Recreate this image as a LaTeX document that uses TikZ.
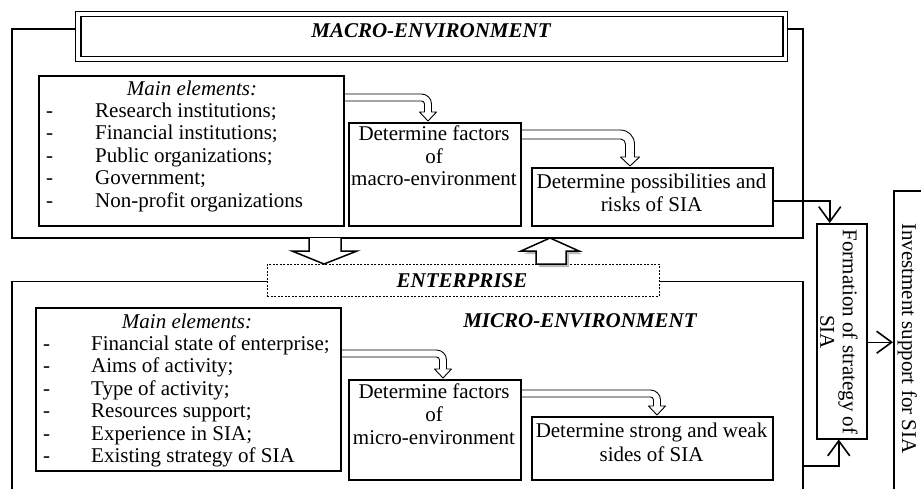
\documentclass[tikz,border=0pt]{standalone}
\usepackage{fontspec}
\setmainfont{Liberation Serif}
\usetikzlibrary{arrows.meta,calc}

\newcommand{\hollowbend}[6]{%
 \pgfmathsetmacro{\hbA}{#4+#3/2}%
 \pgfmathsetmacro{\hbB}{#4-#3/2}%
 \pgfmathsetmacro{\hbH}{#3/2+5}%
 \pgfmathsetmacro{\hbY}{#5-9}%
 \pgfmathsetmacro{\hbr}{max(#6-#3,2)}%
 \pgfmathsetmacro{\hbW}{#2+#3}%
 \draw[hollow] (#1,#2) -- (\hbA-#6,#2) .. controls (\hbA-0.448*#6,#2) and (\hbA,#2+0.448*#6) .. (\hbA,#2+#6)
   -- (\hbA,\hbY) -- (#4+\hbH,\hbY) -- (#4,#5) -- (#4-\hbH,\hbY) -- (\hbB,\hbY)
   -- (\hbB,\hbW+\hbr) .. controls (\hbB,\hbW+0.448*\hbr) and (\hbB-0.448*\hbr,\hbW) .. (\hbB-\hbr,\hbW) -- (#1,\hbW);
}

\begin{document}
\begin{tikzpicture}[x=1pt,y=-1pt,
  every node/.style={font=\fontsize{21}{22.5}\selectfont, inner sep=0pt},
  box/.style={draw, line width=1.5pt, anchor=north west, inner sep=0pt, fill=white},
  frame/.style={line width=1.3pt},
  conn/.style={line width=1.5pt, -{Straight Barb[length=15pt,width=22pt,line width=1.6pt]}},
  hollow/.style={line width=0.9pt, line join=round},
  block/.style={line width=1.5pt, line join=miter},
  ttl/.style={font=\fontsize{21}{22.5}\selectfont\bfseries\itshape, anchor=base},
  txt/.style={anchor=base}]
\useasboundingbox (0,0) rectangle (921,488);

% frames
\draw[frame] (12,29) rectangle (803,238);
\draw[frame] (12,500) -- (12,281.5) -- (803,281.5) -- (803,500);
\coordinate (mframe) at (803,466);

% macro title double box
\node[box, line width=1pt, minimum width=712pt, minimum height=50pt] (ttlout) at (75,11) {};
\node[box, line width=1.8pt, minimum width=702pt, minimum height=40pt] (ttlin) at (80,15.5) {};
\node[ttl] (macttl) at (431,37) {MACRO-ENVIRONMENT};

% enterprise dashed box
\node[draw, dash pattern=on 2pt off 1.5pt, line width=0.6pt, fill=white, anchor=north west,
  minimum width=392pt, minimum height=32pt] (ent) at (267,264) {};
\node[ttl] (entttl) at (462,287) {ENTERPRISE};
\node[ttl] (micttl) at (580,327) {MICRO-ENVIRONMENT};

% macro boxes
\node[box, minimum width=305pt, minimum height=150pt] (macmain) at (38,75) {};
\node[box, minimum width=172pt, minimum height=103pt] (macdf) at (348,122) {};
\node[box, minimum width=241pt, minimum height=58pt] (poss) at (531,167) {};

\node[txt] (mactitle) at (192,95) {\itshape Main elements:};
\foreach \t [count=\i] in {{Research institutions;},{Financial institutions;},{Public organizations;},{Government;},{Non-profit organizations}} {
  \node[anchor=base west] (macd\i) at (46,{95+22.4*\i}) {-};
  \node[anchor=base west] (maci\i) at (95,{95+22.4*\i}) {\t};
}
\node[txt] (macdf1) at (434,140.5) {Determine factors};
\node[txt] (macdf2) at (434,163) {of};
\node[txt] (macdf3) at (434,185.5) {macro-environment};
\node[txt] (poss1) at (651.5,188) {Determine possibilities and};
\node[txt] (poss2) at (651.5,211) {risks of SIA};

% micro boxes
\node[box, minimum width=305pt, minimum height=163pt] (micmain) at (35,307) {};
\node[box, minimum width=172pt, minimum height=100pt] (micdf) at (348,379) {};
\node[box, minimum width=241pt, minimum height=63pt] (strong) at (531,416) {};

\node[txt] (mictitle) at (187,328) {\itshape Main elements:};
\foreach \t [count=\i] in {{Financial state of enterprise;},{Aims of activity;},{Type of activity;},{Resources support;},{Experience in SIA;},{Existing strategy of SIA}} {
  \node[anchor=base west] (micd\i) at (43,{328+22.4*\i}) {-};
  \node[anchor=base west] (mici\i) at (91,{328+22.4*\i}) {\t};
}
\node[txt] (micdf1) at (434,398) {Determine factors};
\node[txt] (micdf2) at (434,421) {of};
\node[txt] (micdf3) at (434,444) {micro-environment};
\node[txt] (strong1) at (651.5,437) {Determine strong and weak};
\node[txt] (strong2) at (651.5,461) {sides of SIA};

% hollow bent arrows
\hollowbend{343}{94}{7}{428}{121}{10}
\hollowbend{520}{130}{9}{630}{166}{14}
\hollowbend{340}{350}{7}{443}{378}{10}
\hollowbend{520}{390}{7}{657}{415}{10}

% block arrows between macro and enterprise
\draw[block, fill=white] (309,238) -- (309,251) -- (292,251) -- (324,264) -- (357,251) -- (341,251) -- (341,238);
\fill[gray!55] (539,267) -- (539,254) -- (524,254) -- (553,241) -- (582,254) -- (569,254) -- (569,267) -- cycle;
\draw[block, fill=white] (536,264) -- (536,251) -- (521,251) -- (550,238) -- (579,251) -- (566,251) -- (566,264) -- cycle;

% right side
\node[box, minimum width=50pt, minimum height=215pt] (form) at (816,223) {};
\node[rotate=-90, align=center] (formtxt) at (839,332) {Formation of strategy of\\SIA};
\node[box, minimum width=60pt, minimum height=320pt] (inv) at (893,190) {};
\node[rotate=-90, anchor=base west] (invtxt) at (902,223) {Investment support for SIA};

\draw[conn] ($(poss.east)+(0,4)$) -| ([xshift=-12pt]form.north);
\draw[conn] (mframe) -| ([xshift=-3pt]form.south);
\draw[conn] ($(form.east)+(0,11)$) -- ($(inv.west |- form.east)+(0,11)$);
\end{tikzpicture}
\end{document}
